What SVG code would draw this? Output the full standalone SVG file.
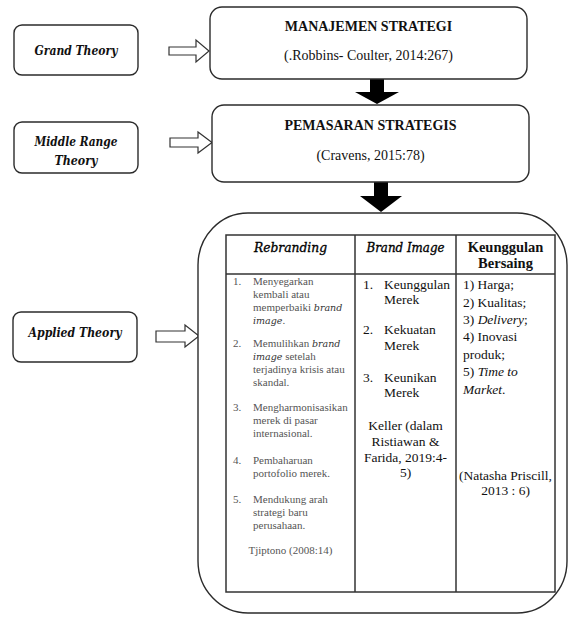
<svg xmlns="http://www.w3.org/2000/svg" width="569" height="618" viewBox="0 0 569 618">
<style>
.box{fill:#fff;stroke:#2b2b2b;stroke-width:1.4}
.harrow{fill:#fff;stroke:#333;stroke-width:1.2}
.barrow{fill:#000}
.lbl{font-family:"DejaVu Serif","Liberation Serif",serif;font-style:italic;font-weight:bold;font-size:12px;fill:#111;text-anchor:middle}
.ttl{font-family:"Liberation Serif",serif;font-weight:bold;font-size:14px;fill:#111;text-anchor:middle}
.sub{font-family:"Liberation Serif",serif;font-size:14px;fill:#111;text-anchor:middle}
.tbl{fill:none;stroke:#333;stroke-width:1.5}
.hdi{font-family:"DejaVu Serif","Liberation Serif",serif;font-style:italic;font-size:12.5px;fill:#000;stroke:#000;stroke-width:0.35;text-anchor:middle}
.hdb{font-family:"Liberation Serif",serif;font-weight:bold;font-size:14.5px;fill:#111;text-anchor:middle}
.c1{font-family:"Liberation Serif",serif;font-size:11px;fill:#555}
.c1i{font-family:"DejaVu Serif",serif;font-style:italic;font-size:9.5px;fill:#333}
.c2{font-family:"Liberation Serif",serif;font-size:13.5px;fill:#111}
.c2m{font-family:"Liberation Serif",serif;font-size:13.5px;fill:#111;text-anchor:middle}
.c3i{font-family:"Liberation Serif",serif;font-style:italic}
</style>

<g id="connectors">
  <path class="harrow" d="M169,47 H196 V40 L209,51 L196,62 V55 H169 Z"/>
  <path class="harrow" d="M170,138 H198 V132 L212,142.5 L198,153 V147 H170 Z"/>
  <path class="harrow" d="M156,331 H185 V325 L199,336 L185,347 V342 H156 Z"/>
  <path class="barrow" d="M370,79 H384 V92 H399 L377,104 L355,92 H370 Z"/>
  <path class="barrow" d="M374,182 H388 V196 H402 L381,212 L360,196 H374 Z"/>
</g>

<g id="grand-theory">
  <rect class="box" x="14" y="25" width="124" height="50" rx="8"/>
  <text class="lbl" x="76" y="55" textLength="83" lengthAdjust="spacingAndGlyphs">Grand Theory</text>
</g>

<g id="middle-range-theory">
  <rect class="box" x="14" y="122" width="124" height="51" rx="8"/>
  <text class="lbl" x="76" y="146" textLength="83" lengthAdjust="spacingAndGlyphs">Middle Range</text>
  <text class="lbl" x="76" y="165" textLength="43" lengthAdjust="spacingAndGlyphs">Theory</text>
</g>

<g id="applied-theory">
  <rect class="box" x="13" y="312" width="124" height="50" rx="8"/>
  <text class="lbl" x="75" y="337" textLength="93" lengthAdjust="spacingAndGlyphs">Applied Theory</text>
</g>

<g id="manajemen-strategi">
  <rect class="box" x="210" y="7" width="317" height="72" rx="12"/>
  <text class="ttl" x="368.5" y="31">MANAJEMEN STRATEGI</text>
  <text class="sub" x="368.5" y="60">(.Robbins- Coulter, 2014:267)</text>
</g>

<g id="pemasaran-strategis">
  <rect class="box" x="212" y="105" width="317" height="77" rx="12"/>
  <text class="ttl" x="370.5" y="130">PEMASARAN STRATEGIS</text>
  <text class="sub" x="370.5" y="160">(Cravens, 2015:78)</text>
</g>

<g id="applied-frame">
  <rect class="box" x="198" y="213" width="369" height="400" rx="50" ry="52"/>
  <rect class="tbl" x="226" y="235" width="329" height="357"/>
  <line class="tbl" x1="226" y1="274" x2="555" y2="274"/>
  <line class="tbl" x1="355" y1="235" x2="355" y2="592"/>
  <line class="tbl" x1="456" y1="235" x2="456" y2="592"/>

  <text class="hdi" x="290.5" y="252" textLength="73" lengthAdjust="spacingAndGlyphs">Rebranding</text>
  <text class="hdi" x="405.5" y="252" textLength="78" lengthAdjust="spacingAndGlyphs">Brand Image</text>
  <text class="hdb" x="505.5" y="252">Keunggulan</text>
  <text class="hdb" x="505.5" y="268">Bersaing</text>

  <g id="rebranding-list">
    <text class="c1" x="233" y="285">1.</text>
    <text class="c1" x="253" y="285">Menyegarkan</text>
    <text class="c1" x="253" y="298">kembali atau</text>
    <text class="c1" x="253" y="311">memperbaiki <tspan class="c1i">brand</tspan></text>
    <text class="c1" x="253" y="324"><tspan class="c1i">image</tspan>.</text>
    <text class="c1" x="233" y="347">2.</text>
    <text class="c1" x="253" y="347">Memulihkan <tspan class="c1i">brand</tspan></text>
    <text class="c1" x="253" y="360"><tspan class="c1i">image</tspan> setelah</text>
    <text class="c1" x="253" y="373">terjadinya krisis atau</text>
    <text class="c1" x="253" y="386">skandal.</text>
    <text class="c1" x="233" y="411">3.</text>
    <text class="c1" x="253" y="411">Mengharmonisasikan</text>
    <text class="c1" x="253" y="424">merek di pasar</text>
    <text class="c1" x="253" y="437">internasional.</text>
    <text class="c1" x="233" y="464">4.</text>
    <text class="c1" x="253" y="464">Pembaharuan</text>
    <text class="c1" x="253" y="477">portofolio merek.</text>
    <text class="c1" x="233" y="503">5.</text>
    <text class="c1" x="253" y="503">Mendukung arah</text>
    <text class="c1" x="253" y="516">strategi baru</text>
    <text class="c1" x="253" y="529">perusahaan.</text>
    <text class="c1" x="290.5" y="554" text-anchor="middle">Tjiptono (2008:14)</text>
  </g>

  <g id="brand-image-list">
    <text class="c2" x="363" y="289">1.</text>
    <text class="c2" x="384" y="289">Keunggulan</text>
    <text class="c2" x="384" y="304">Merek</text>
    <text class="c2" x="363" y="334">2.</text>
    <text class="c2" x="384" y="334">Kekuatan</text>
    <text class="c2" x="384" y="350">Merek</text>
    <text class="c2" x="363" y="382">3.</text>
    <text class="c2" x="384" y="382">Keunikan</text>
    <text class="c2" x="384" y="397">Merek</text>
    <text class="c2m" x="405.5" y="430">Keller (dalam</text>
    <text class="c2m" x="405.5" y="446">Ristiawan &amp;</text>
    <text class="c2m" x="405.5" y="462">Farida, 2019:4-</text>
    <text class="c2m" x="405.5" y="477">5)</text>
  </g>

  <g id="keunggulan-list">
    <text class="c2" x="463" y="289">1) Harga;</text>
    <text class="c2" x="463" y="307">2) Kualitas;</text>
    <text class="c2" x="463" y="324">3) <tspan class="c3i">Delivery</tspan>;</text>
    <text class="c2" x="463" y="341">4) Inovasi</text>
    <text class="c2" x="463" y="359">produk;</text>
    <text class="c2" x="463" y="376">5) <tspan class="c3i">Time to</tspan></text>
    <text class="c2" x="463" y="394"><tspan class="c3i">Market</tspan>.</text>
    <text class="c2m" x="505.5" y="480">(Natasha Priscill,</text>
    <text class="c2m" x="505.5" y="495">2013 : 6)</text>
  </g>
</g>
</svg>
